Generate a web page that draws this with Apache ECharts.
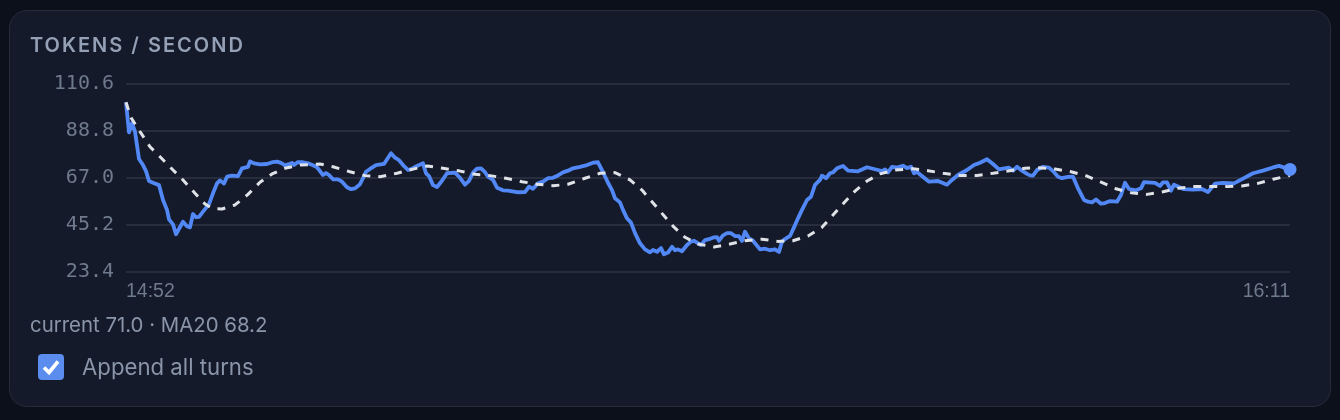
<!DOCTYPE html>
<html>
<head>
<meta charset="utf-8">
<title>Tokens / second</title>
<script src="https://cdn.jsdelivr.net/npm/echarts@6/dist/echarts.min.js"></script>
<style>
html,body{margin:0;padding:0;width:1340px;height:420px;overflow:hidden;background:#0c101b;}
#panel{position:absolute;left:9px;top:10px;width:1322px;height:397px;box-sizing:border-box;background:#141a2a;border:1.5px solid #262c3b;border-radius:18px;}
#main{position:absolute;left:0;top:0;width:1340px;height:420px;}
.txt{position:absolute;font-family:Inter,sans-serif;white-space:nowrap;}
#title{left:30px;top:33px;font-size:20px;line-height:24px;font-weight:600;letter-spacing:2px;color:#94a0b5;}
#stats{left:30px;top:313px;font-size:20.4px;line-height:24px;color:#8a95a9;}
#toggle{left:38px;top:354px;height:26px;line-height:26px;font-size:22.2px;color:#8a95a9;}
#toggle input{appearance:none;-webkit-appearance:none;position:absolute;left:0;top:0;width:26px;height:26px;margin:0;border-radius:4px;
  background:#5b8def url("data:image/svg+xml,%3Csvg xmlns='http://www.w3.org/2000/svg' viewBox='0 0 26 26'%3E%3Cpath d='M6 13.5l5 5 9-11' fill='none' stroke='white' stroke-width='3.6'/%3E%3C/svg%3E");}
#toggle span{position:absolute;left:44px;top:0;}
</style>
</head>
<body>
<div id="panel"></div>
<div id="main"></div>
<div class="txt" id="title">TOKENS / SECOND</div>
<div class="txt" id="stats"></div>
<label class="txt" id="toggle"><input type="checkbox" checked><span>Append all turns</span></label>
<script>
// x position of each reading along the 14:52 - 16:11 window (0 - 1164)
var rateT = [
	0,3,6,9,13,17,20,23,27,33,37,41,43,47,50,57,61,64,67,70,
	73,77,83,87,91,94,98,101,106,108,112,116,118,122,124,128,134,141,147,151,
	155,159,163,166,168,172,177,182,183,187,191,194,197,200,203,207,212,216,221,225,
	229,234,237,240,244,250,258,265,269,273,277,282,286,291,297,300,303,307,311,316,
	321,329,334,339,343,347,351,355,359,362,367,371,377,382,391,399,403,407,412,417,
	422,427,432,437,442,447,454,461,467,472,476,482,486,489,494,497,501,505,509,514,
	519,524,527,531,535,538,542,546,549,552,556,561,565,568,571,575,579,583,588,591,
	593,597,601,605,609,613,616,619,623,627,634,639,644,649,653,656,659,664,668,672,
	676,681,685,689,694,696,700,704,707,711,717,722,732,741,747,756,759,762,766,771,
	777,781,785,788,791,803,812,821,826,832,841,848,854,861,867,873,877,883,887,891,
	896,901,904,907,911,917,923,927,932,936,942,947,952,958,962,966,970,975,979,984,
	991,995,999,1003,1010,1015,1018,1029,1034,1037,1041,1045,1048,1058,1067,1076,1082,1089,1097,1108,
	1117,1127,1137,1147,1153,1164];
var rateV = [
	102.1,88.2,92.4,88.5,75.8,73,70.2,65.6,64.8,63.7,56.8,52.2,47.8,45.5,40.9,46.7,44.6,44.1,50.3,48.8,
	49,51.4,54.9,59.9,64.5,65.9,64.4,67.6,68.1,69,67.9,71.5,72.2,72.2,74.7,73.8,73.3,73.5,74.4,74.6,
	74,72.9,73.4,74,73,74.4,74.3,73.8,74.4,72.9,72,70.2,68.4,69.3,68.4,66.4,66.4,65.3,62.7,61.8,
	62.2,64.1,66.9,69.9,71.2,73,73.5,78.5,76.4,75.3,73,70.7,71.3,72.6,73.8,69.2,67.9,63.7,62.8,65.7,
	69.2,69.5,67.1,63.9,65.7,69.5,71.3,71.5,69.7,67.6,66.1,62.5,61.3,61.1,60.4,60.5,63,62,64.5,65.3,
	66.9,67.1,68.2,69.6,70.4,71.5,72.2,73,74.1,74.3,70.7,64.8,61.4,57.6,55.7,52.2,48.3,46.3,41.4,36.7,
	33.9,32.5,33.6,32.8,34.5,31.6,32.4,35.1,33.5,33.9,33,35.9,37.5,37.9,37,35.9,38.2,38.6,39.5,39.6,
	37.9,40.4,41.4,41.4,40.1,40,37.8,42.1,39,37.9,33.9,34.2,33.5,33.9,32.7,37.5,38.7,40.1,44.1,48.3,
	52.2,56.8,58.3,63.8,66.1,68.1,66.9,69.2,69.6,71.5,72.6,70.4,70.1,72,71.3,70.2,71,69.6,72.2,71.8,
	72.7,71.6,72.2,69.2,69.8,65.3,65.6,63.9,66.1,68.4,70.7,73,74.1,75.7,73.5,71,71.3,71.8,70.4,72.2,
	70.4,68.9,68.2,68.1,70.7,72.2,71.8,70.2,67.6,66.9,67.5,67.6,62.2,56.8,56,55.7,57,55.1,55.4,56.3,
	56,59.1,64.8,61.9,61.3,62.2,65.1,64.7,63.3,65,65,61.1,63.9,61.8,61.6,61.9,60.5,64.4,64.7,64.5,
	66.7,69.2,70.4,71.9,72.6,71];

var maT = [
	0,5,14,24,35,46,57,69,79,86,96,109,122,134,146,159,174,194,207,224,
	239,254,271,286,301,317,334,349,364,380,396,411,427,442,459,474,489,504,516,526,
	536,547,559,572,588,604,619,636,652,667,682,696,707,718,729,741,754,769,787,802,
	817,834,851,867,882,899,912,929,945,961,975,990,1005,1021,1037,1052,1067,1084,1101,1116,
	1132,1147,1161,1164];
var maV = [
	102.1,95,88.5,81.5,76.4,71.2,66.1,59.9,54.9,52.9,52.6,54.5,59.4,65,68.9,71.5,73,73.5,72.2,69.9,
	68.1,67.6,69.2,71,72.6,71.5,70.2,68.7,68.1,66.9,65.3,64.1,63.4,64.1,66.9,69.2,69.5,66.1,61.4,56,
	50.6,44.7,39.5,36.4,35,36.4,37.9,38.6,37.6,37.9,40.1,44.1,49.8,55.5,60.9,65.6,68.9,70.7,71.3,70.4,
	69.2,68.2,68.2,69.2,70.2,71.5,71.8,71.2,69.9,67.9,65.1,62,60.2,59.4,60.6,62.2,63,63,63,63.3,
	64.5,66.4,67.9,68.2];

var yTicks = [23.4,45.2,67.0,88.8,110.6];
var timeLabels = ['14:52','16:11'];
var windowEnd = 1164;
var currentRate = 71.0, currentMA = 68.2;

function zip(xs, ys){
	var out = [];
	for(var i=0;i<ys.length;i++) out.push([xs[i], ys[i]]);
	return out;
}

document.getElementById('stats').textContent = 'current ' + currentRate.toFixed(1) + ' · MA20 ' + currentMA.toFixed(1);

var myChart = echarts.init(document.getElementById('main'));
myChart.setOption({
	animation:false,
	backgroundColor:'transparent',
	grid:{left:126,right:50,top:84,bottom:148,containLabel:false},
	xAxis:{
		type:'value',min:0,max:windowEnd,
		axisLine:{show:false},axisTick:{show:false},splitLine:{show:false},
		axisLabel:{
			customValues:[0,windowEnd],
			formatter:function(v){return v===0?timeLabels[0]:timeLabels[1];},
			color:'#6f7a8c',fontFamily:'Liberation Sans',fontSize:19.5,margin:10,
			alignMinLabel:'left',alignMaxLabel:'right'
		}
	},
	yAxis:{
		type:'value',min:yTicks[0],max:yTicks[yTicks.length-1],
		axisLine:{show:false},
		axisTick:{show:false,customValues:yTicks},
		splitLine:{show:true,lineStyle:{color:'#272d3c',width:2}},
		axisLabel:{
			customValues:yTicks,
			formatter:function(v){return v.toFixed(1);},
			color:'#6f7a8c',fontFamily:'DejaVu Sans Mono',fontSize:20,margin:12
		}
	},
	series:[
		{type:'line',name:'tokens/s',data:zip(rateT,rateV),showSymbol:false,symbol:'none',z:3,
			lineStyle:{color:'#5288f5',width:3.8,join:'round'}},
		{type:'line',name:'MA20',data:zip(maT,maV),showSymbol:false,symbol:'none',z:4,
			lineStyle:{color:'#dfe2e6',width:3,type:[8,8]}},
		{type:'scatter',name:'current',data:[[windowEnd,currentRate]],symbol:'circle',symbolSize:13,z:5,
			itemStyle:{color:'#5b8ff9',opacity:1}}
	]
});
</script>
</body>
</html>
